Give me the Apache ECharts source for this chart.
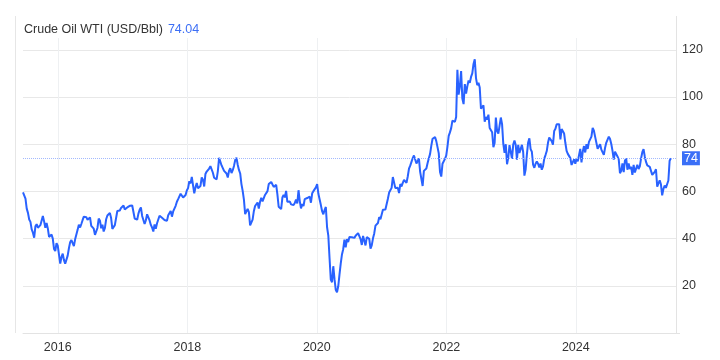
<!DOCTYPE html>
<html><head><meta charset="utf-8">
<script src="https://cdn.jsdelivr.net/npm/echarts@6/dist/echarts.min.js"></script>
<style>html,body{margin:0;padding:0;background:#fff}#c{width:720px;height:360px}</style>
</head><body><div id="c"></div>
<script>
// First Friday of each block of weekly closes
const yearStarts = ['2015-06-19','2016-01-01','2017-01-06','2018-01-05','2019-01-04','2020-01-03','2021-01-01','2022-01-07','2023-01-06','2024-01-05','2025-01-03'];
const p2015 = [59.6,59.6,56.9,52.7,50.9,48.1,47.1,43.9,42.5,40.4,45.2,46.1,44.6,44.7,45.7,45.5,49.6,47.3,44.6,46.6,44.3,40.7,40.4,41.7,40.0,35.6,34.7,38.1];
const p2016 = [37.0,33.2,29.4,32.2,33.6, 30.9,29.4,29.6,32.8, 35.9,38.5,39.4,39.5, 36.8,39.7,40.4,43.7,45.9, 44.7,46.2,47.8,49.3, 48.6,49.1,48.0,47.6, 49.0,45.4,46.0,44.2,41.6, 41.8,44.5,48.5,47.6, 44.4,45.9,43.0,44.5,48.2, 49.8,50.4,50.9,48.7, 44.1,43.4,45.7,46.1, 51.7,51.5,51.9,53.0,53.7];
const p2017 = [54.0,52.4,53.2,53.2, 53.8,53.9,53.4,54.0, 53.3,48.5,48.8,48.0,50.6, 52.2,53.2,49.6,49.3, 46.2,47.8,50.3,49.8, 47.7,45.8,44.7,43.0,46.0, 44.2,46.5,45.8,49.7, 49.6,48.8,48.5,47.9, 47.3,47.5,49.9,50.7,51.7, 49.3,51.5,51.8,53.9, 55.6,56.7,56.6,59.0, 58.4,57.4,57.3,58.5,60.4];
const p2018 = [61.4,64.3,63.4,66.1, 65.5,59.2,61.7,63.6, 61.3,62.0,62.3,65.9,64.9, 62.1,67.4,68.4,68.1, 69.7,70.7,71.3,67.9, 65.8,65.7,65.1,68.6,74.2, 73.8,71.0,70.5,68.7, 68.5,67.6,65.9,68.7,69.8, 67.8,69.0,70.8,73.3, 74.3,71.3,69.1,67.6, 63.1,60.2,56.5,50.4,50.9, 52.6,51.2,45.6,45.3];
const p2019 = [48.0,51.6,53.8,53.7, 55.3,52.7,55.6,57.3, 55.8,56.1,58.5,59.0,60.1, 63.1,63.9,64.0,63.3, 61.9,61.7,62.8,58.6,53.5, 54.0,52.5,57.4,58.5, 57.5,60.2,55.6,56.2, 55.7,54.5,54.9,54.2,55.1, 56.5,54.9,60.5,55.9, 52.8,54.7,53.8,56.7, 56.2,57.2,57.7,57.8,55.2, 59.2,60.1,60.4,61.7];
const p2020 = [63.1,59.0,58.5,54.2,51.6, 50.3,52.1,53.4,44.8, 41.3,31.7,22.6,21.5, 28.3,22.8,18.3,17.2, 19.8,24.7,29.4,33.3,35.5, 39.6,36.3,39.8,38.5, 40.7,40.6,40.6,41.3,40.3, 41.2,42.0,42.3,43.0, 39.8,37.3,41.1,40.3, 37.1,40.6,40.9,39.9,35.8, 37.1,40.1,42.2,45.5, 46.3,46.6,49.1,48.2];
const p2021 = [48.5,52.2,52.4,52.3,52.2, 56.9,59.5,59.2,61.5, 66.1,65.6,61.4,61.0, 61.5,59.3,63.1,62.1,63.6, 64.9,65.4,63.6,66.3, 69.6,70.9,71.6,74.1, 75.2,74.6,71.8,72.1,74.0, 68.3,68.4,62.3,68.7, 69.3,69.7,72.0,74.0, 75.9,79.4,82.3,83.0,83.0, 81.3,80.8,76.1,68.2, 66.3,71.7,70.9,73.8,75.2];
const p2022 = [79.0,83.5,85.0,86.8, 90.0,90.5,89.5,91.5, 111.5,101.0,104.5,111.0, 99.3,97.0,105.5,101.5,104.5, 107.0,106.0,108.5,110.0, 114.0,116.0,108.0,105.0, 106.0,104.0,95.0,94.7,96.5, 89.5,91.5,90.5,92.5, 86.9,86.4,85.1,78.7,80.5, 91.3,85.6,84.5,87.9, 91.3,88.5,80.1,76.3, 80.0,71.5,74.3,79.6,80.0];
const p2023 = [73.8,79.9,81.6,79.7, 73.4,79.7,76.3,76.3, 79.7,76.7,66.7,69.3,75.7, 80.7,82.5,77.9,76.8, 71.3,70.0,71.7,72.7, 71.7,70.2,71.8,69.2,70.6, 73.9,75.4,77.1,80.6, 82.8,83.2,81.3,79.8, 85.6,86.5,88.5,88.0,88.5, 82.0,86.4,86.5,84.5, 80.5,77.2,75.9,75.5, 74.1,71.2,71.4,73.6,71.7];
const p2024 = [73.8,72.7,73.4,78.0, 72.3,76.8,79.2,76.5, 80.0,78.0,81.0,80.6,83.2, 86.9,85.7,83.1,83.9, 78.1,78.3,80.0,77.7,77.0, 75.5,78.5,80.7,81.5, 83.2,82.2,80.1,77.2, 73.5,76.8,76.7,74.8,73.6, 67.7,68.7,71.9,68.2, 73.0,74.0,69.2,71.8, 69.5,70.4,67.0,71.2,68.0, 67.2,71.3,69.5,70.6];
const p2025 = [74.0,76.6,77.9,74.7,72.5, 71.0,70.7,70.4,69.8, 67.0,67.2,68.3,69.4, 62.0,61.5,64.7,63.0, 58.3,61.0,62.5,61.5,60.8, 64.6,73.0,74.04];
const yearValues = [p2015,p2016,p2017,p2018,p2019,p2020,p2021,p2022,p2023,p2024,p2025];

const xTickYears = [2016,2018,2020,2022,2024];
const yGridValues = [0,20,40,60,80,100,120];
const yLabelValues = [20,40,60,80,100,120];
const lastValue = 74.04;
const titleText = 'Crude Oil WTI (USD/Bbl)';
const xRange = ['2015-06-19','2025-07-19'];

function parseDate(s){const p=s.split('-').map(Number);return Date.UTC(p[0],p[1]-1,p[2]);}
const DAY = 86400000;
const seriesData = [];
yearValues.forEach(function(arr,i){
  const t0 = parseDate(yearStarts[i]);
  arr.forEach(function(v,j){ seriesData.push([t0 + j*7*DAY, v]); });
});
const xTicks = xTickYears.map(function(y){return Date.UTC(y,0,1);});
const FONT = 'Liberation Sans, Arial, sans-serif';

const chart = echarts.init(document.getElementById('c'), null, {renderer:'canvas'});
chart.setOption({
  animation:false,
  backgroundColor:'#ffffff',
  title:{
    left:24, top:21, padding:0,
    text:'{a|'+titleText+'} {b|'+lastValue.toFixed(2)+'}',
    textStyle:{fontWeight:'normal',rich:{
      a:{fontFamily:FONT,fontSize:12.5,fontWeight:'normal',color:'#333333'},
      b:{fontFamily:FONT,fontSize:12.5,fontWeight:'normal',color:'#3d6ff5'}
    }}
  },
  grid:{left:23,right:44,top:38,bottom:27},
  xAxis:{
    type:'value',
    min:parseDate(xRange[0]), max:parseDate(xRange[1]),
    axisLine:{show:true,lineStyle:{color:'#e3e3e3',width:1}},
    axisTick:{show:false,customValues:xTicks},
    axisLabel:{customValues:xTicks,formatter:function(v){return String(new Date(v).getUTCFullYear());},
      color:'#333333',fontSize:12.5,fontFamily:FONT,margin:8},
    splitLine:{show:true,lineStyle:{color:'#eef0f2',width:1}}
  },
  yAxis:{
    type:'value', position:'right', min:0, max:125,
    axisLine:{show:false},
    axisTick:{show:false,customValues:yGridValues},
    axisLabel:{customValues:yLabelValues,color:'#333333',fontSize:12.5,fontFamily:FONT,margin:6},
    splitLine:{show:true,lineStyle:{color:'#e8e8e8',width:1}}
  },
  graphic:[
    {type:'line',shape:{x1:15.5,y1:16,x2:15.5,y2:333},style:{stroke:'#e6e6e6',lineWidth:1},silent:true},
    {type:'line',shape:{x1:676.5,y1:16,x2:676.5,y2:333},style:{stroke:'#e3e3e3',lineWidth:1},silent:true},
    {type:'line',shape:{x1:676,y1:333.5,x2:680,y2:333.5},style:{stroke:'#e3e3e3',lineWidth:1},silent:true}
  ],
  series:[{
    type:'line',
    data:seriesData,
    showSymbol:false,
    symbol:'none',
    sampling:false,
    lineStyle:{color:'#2962ff',width:2},
    itemStyle:{color:'#2962ff'},
    markLine:{
      silent:true, symbol:'none', animation:false,
      data:[{yAxis:lastValue}],
      lineStyle:{type:[1,1],color:'#a3b9fd',width:1},
      label:{show:true,position:'end',formatter:function(){return String(Math.round(lastValue));},
        color:'#ffffff',backgroundColor:'#3a6ff7',padding:[1,2,0,2],fontSize:12.5,fontFamily:FONT,distance:6},
      emphasis:{disabled:true}
    }
  }]
});
</script>
</body></html>
